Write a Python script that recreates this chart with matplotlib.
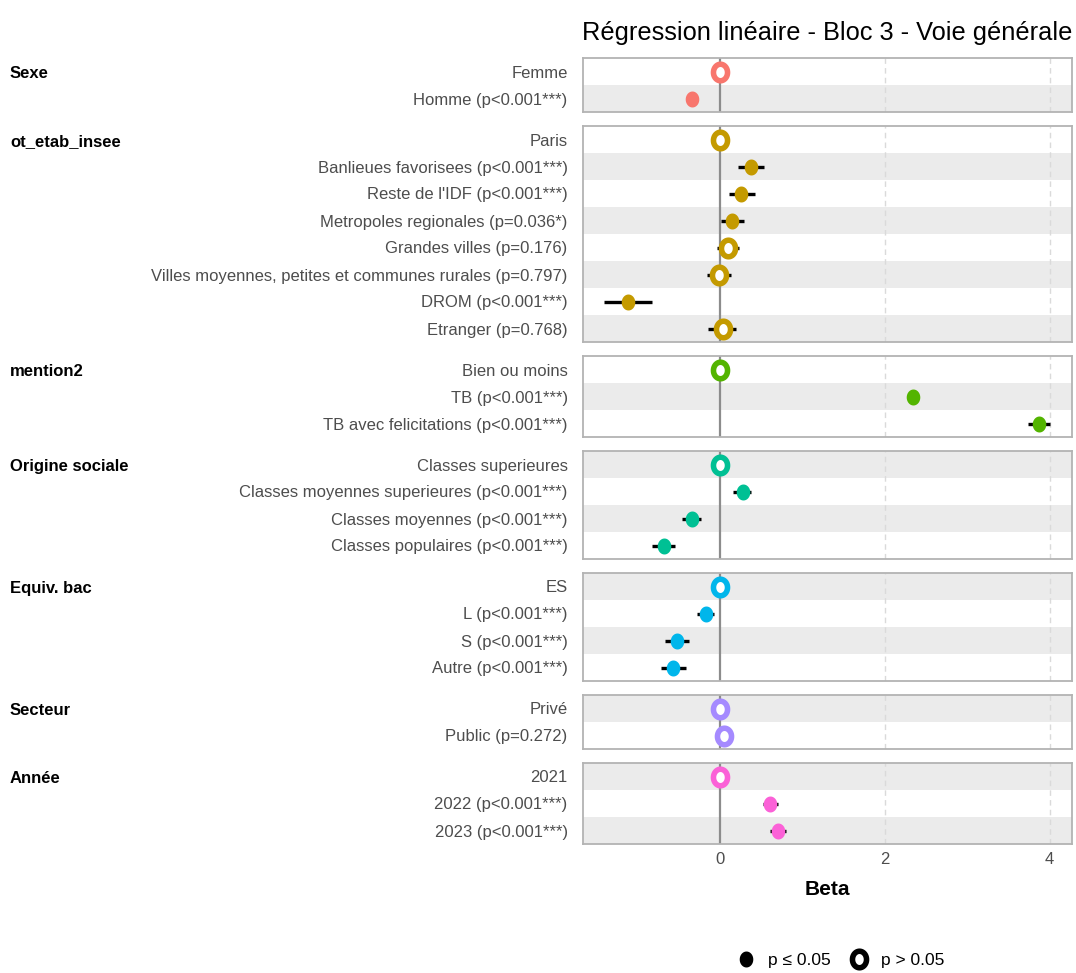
import numpy as np
import matplotlib
matplotlib.use("Agg")
import matplotlib.pyplot as plt
from matplotlib.path import Path
from matplotlib.lines import Line2D

plt.rcParams['font.family'] = ['Liberation Sans', 'DejaVu Sans']

# --- données ---
groups = ['Sexe', 'ot_etab_insee', 'mention2', 'Origine sociale', 'Equiv. bac', 'Secteur', 'Année']
group_colors = ['#F8766D', '#C49A00', '#53B400', '#00C094', '#00B6EB', '#A58AFF', '#FB61D7']
group_sizes = [2, 8, 3, 4, 4, 2, 3]

row_labels = [
    'Femme', 'Homme (p<0.001***)',
    'Paris', 'Banlieues favorisees (p<0.001***)', "Reste de l'IDF (p<0.001***)",
    'Metropoles regionales (p=0.036*)', 'Grandes villes (p=0.176)',
    'Villes moyennes, petites et communes rurales (p=0.797)', 'DROM (p<0.001***)',
    'Etranger (p=0.768)',
    'Bien ou moins', 'TB (p<0.001***)', 'TB avec felicitations (p<0.001***)',
    'Classes superieures', 'Classes moyennes superieures (p<0.001***)',
    'Classes moyennes (p<0.001***)', 'Classes populaires (p<0.001***)',
    'ES', 'L (p<0.001***)', 'S (p<0.001***)', 'Autre (p<0.001***)',
    'Privé', 'Public (p=0.272)',
    '2021', '2022 (p<0.001***)', '2023 (p<0.001***)',
]
beta = [0, -0.34,
        0, 0.375, 0.26, 0.145, 0.097, -0.012, -1.115, 0.032,
        0, 2.34, 3.875,
        0, 0.275, -0.34, -0.675,
        0, -0.17, -0.52, -0.565,
        0, 0.048,
        0, 0.606, 0.70]
ci_low = [0, -0.38,
          0, 0.22, 0.105, 0.01, -0.04, -0.16, -1.41, -0.14,
          0, 2.30, 3.74,
          0, 0.16, -0.46, -0.82,
          0, -0.275, -0.66, -0.72,
          0, 0.02,
          0, 0.52, 0.61]
ci_high = [0, -0.30,
           0, 0.53, 0.42, 0.29, 0.23, 0.14, -0.82, 0.20,
           0, 2.38, 4.00,
           0, 0.38, -0.23, -0.54,
           0, -0.07, -0.375, -0.41,
           0, 0.08,
           0, 0.71, 0.80]
signif = [False, True,
          False, True, True, True, False, False, True, False,
          False, True, True,
          False, True, True, True,
          False, True, True, True,
          False, False,
          False, True, True]

# marqueur légèrement ovale, comme sur l'original
t = np.linspace(0, 2 * np.pi, 64)
oval = Path(np.column_stack([0.85 * np.cos(t), np.sin(t)]), closed=True)
FILLED = dict(marker=oval, ms=11.5, mew=0, ls='none')
OPEN = dict(marker=oval, ms=11.9, mew=4.0, mfc='white', ls='none')

W, H = 1076, 973
fig = plt.figure(figsize=(W / 100, H / 100), dpi=100)

x_left, x_right = 583, 1072
row_h, gap, top = 27, 14, 58
xlim = (-1.66, 4.27)
label_color = '#4D4D4D'

start = 0
y_px = top
for g, (name, n, col) in enumerate(zip(groups, group_sizes, group_colors)):
    h = n * row_h
    ax = fig.add_axes([x_left / W, 1 - (y_px + h) / H, (x_right - x_left) / W, h / H])
    idx = list(range(start, start + n))
    for k, i in enumerate(idx):
        if i % 2 == 1:
            ax.axhspan(k - 0.5, k + 0.5, color='#EBEBEB', lw=0, zorder=0)
    for xv in (2, 4):
        ax.axvline(xv, color='#DADADA', lw=1, ls=(0, (4, 3)), zorder=1)
    ax.axvline(0, color='#8C8C8C', lw=1.6, zorder=2)
    for k, i in enumerate(idx):
        ax.plot([ci_low[i], ci_high[i]], [k, k], color='black', lw=2.4,
                solid_capstyle='butt', zorder=3)
        if signif[i]:
            ax.plot(beta[i], k, mfc=col, mec=col, zorder=4, **FILLED)
        else:
            ax.plot(beta[i], k, mec=col, zorder=4, **OPEN)
    ax.set_xlim(*xlim)
    ax.set_ylim(n - 0.5, -0.5)
    ax.set_yticks(range(n))
    ax.set_yticklabels([row_labels[i] for i in idx], fontsize=12, color=label_color)
    ax.tick_params(axis='y', length=0, pad=11)
    ax.set_xticks([0, 2, 4])
    if g == len(groups) - 1:
        ax.set_xticklabels(['0', '2', '4'], fontsize=12, color=label_color)
        ax.tick_params(axis='x', length=0, pad=6)
        ax.set_xlabel('Beta', fontsize=15, fontweight='bold', labelpad=9)
    else:
        ax.tick_params(axis='x', length=0, labelbottom=False)
    for s in ax.spines.values():
        s.set_color('#B3B3B3')
        s.set_linewidth(1.3)
    fig.text(10 / W, 1 - (y_px + row_h / 2 + 2) / H, name, fontsize=12,
             fontweight='bold', ha='left', va='center')
    start += n
    y_px += h + gap

fig.text(x_right / W, 1 - 33 / H, 'Régression linéaire - Bloc 3 - Voie générale',
         fontsize=18.3, ha='right', va='center')

handles = [
    Line2D([], [], mfc='black', mec='black', **FILLED),
    Line2D([], [], mec='black', **OPEN),
]
fig.legend(handles, ['p ≤ 0.05', 'p > 0.05'], loc='center', ncol=2,
           bbox_to_anchor=(840 / W, 1 - 960 / H), frameon=False, fontsize=12.5,
           handletextpad=0.7, columnspacing=1.0, handlelength=1.2)

fig.savefig('out.png', dpi=100)
